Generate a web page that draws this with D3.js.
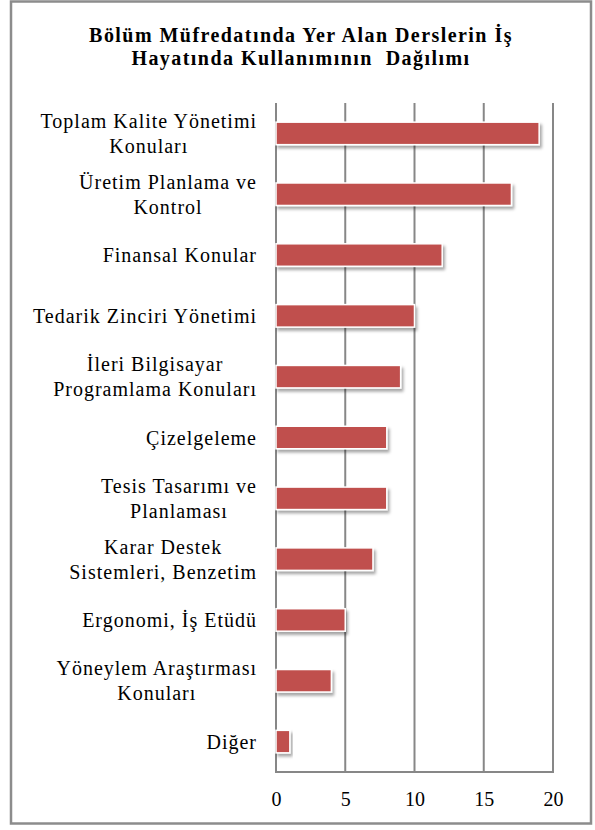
<!DOCTYPE html>
<html>
<head>
<meta charset="utf-8">
<script src="https://cdnjs.cloudflare.com/ajax/libs/d3/7.8.5/d3.min.js"></script>
<style>
  body { margin: 0; background: #fff; }
  text { font-family: "Liberation Serif", "Times New Roman", serif; fill: #000; }
</style>
</head>
<body>
<svg id="chart"></svg>
<script>
// chart data
var titleLines = ["Bölüm Müfredatında Yer Alan Derslerin İş", "Hayatında Kullanımının  Dağılımı"];

var categories = [
    "Toplam Kalite Yönetimi\nKonuları",
    "Üretim Planlama ve\nKontrol",
    "Finansal Konular",
    "Tedarik Zinciri Yönetimi",
    "İleri Bilgisayar\nProgramlama Konuları",
    "Çizelgeleme",
    "Tesis Tasarımı ve\nPlanlaması",
    "Karar Destek\nSistemleri, Benzetim",
    "Ergonomi, İş Etüdü",
    "Yöneylem Araştırması\nKonuları",
    "Diğer"
];

var values = [19, 17, 12, 10, 9, 8, 8, 7, 5, 4, 1];

var xTicks = [0, 5, 10, 15, 20];

var serif = "'Liberation Serif', 'Times New Roman', serif";

// svg size
var width = 595,
    height = 830;

var svg = d3.select("#chart")
    .attr("width", width)
    .attr("height", height);

// drop shadow for bars
var defs = svg.append("defs");
defs.append("filter")
    .attr("id", "shadow")
    .attr("x", "-10%").attr("y", "-30%")
    .attr("width", "130%").attr("height", "180%")
  .append("feDropShadow")
    .attr("dx", 2)
    .attr("dy", 3)
    .attr("stdDeviation", 1.8)
    .attr("flood-color", "#000")
    .attr("flood-opacity", 0.35);

// outer frame
svg.append("rect")
    .attr("x", 11)
    .attr("y", 1.5)
    .attr("width", 580)
    .attr("height", 822)
    .attr("fill", "#fff")
    .attr("stroke", "#8c8c8c")
    .attr("stroke-width", 2.5);

// title
svg.append("g").selectAll("text")
    .data(titleLines).enter()
    .append("text")
    .attr("x", 301)
    .attr("y", function(d, i) { return 42 + i * 23; })
    .attr("text-anchor", "middle")
    .style("font-family", serif)
    .style("font-size", "20px")
    .style("font-weight", "bold")
    .style("letter-spacing", "1.45px")
    .style("white-space", "pre")
    .text(function(d) { return d; });

// plot area
var plot = {left: 276, right: 553, top: 103, bottom: 772};

var x = d3.scaleLinear()
    .domain([0, 20])
    .range([plot.left, plot.right]);

var y = d3.scaleBand()
    .domain(categories)
    .range([plot.top, plot.bottom])
    .paddingInner(0.63)
    .paddingOuter(0.315);

// vertical grid lines
svg.append("g")
    .selectAll("line")
    .data(xTicks).enter()
    .append("line")
    .attr("x1", function(d) { return x(d); })
    .attr("x2", function(d) { return x(d); })
    .attr("y1", plot.top)
    .attr("y2", plot.bottom)
    .attr("stroke", "#878787")
    .attr("stroke-width", 2);

// bottom axis line
svg.append("line")
    .attr("x1", plot.left - 1)
    .attr("x2", plot.right + 1)
    .attr("y1", plot.bottom)
    .attr("y2", plot.bottom)
    .attr("stroke", "#878787")
    .attr("stroke-width", 2);

// bars
svg.append("g")
    .selectAll("rect")
    .data(values).enter()
    .append("rect")
    .attr("x", x(0))
    .attr("y", function(d, i) { return y(categories[i]); })
    .attr("width", function(d) { return x(d) - x(0); })
    .attr("height", y.bandwidth())
    .attr("fill", "#C0504D")
    .attr("stroke", "#fff")
    .attr("stroke-width", 1.5)
    .attr("filter", "url(#shadow)");

// x axis tick labels
var xAxis = svg.append("g")
    .attr("transform", "translate(0," + plot.bottom + ")")
    .call(d3.axisBottom(x).tickValues(xTicks).tickSize(0).tickPadding(20));

xAxis.select(".domain").remove();
xAxis.attr("font-family", null).attr("font-size", null);
xAxis.selectAll("text")
    .style("font-family", serif)
    .style("font-size", "20px")
    .attr("fill", "#000");

// category labels, wrapped lines centred on each other, block right-aligned
var labelRight = 257,
    lineHeight = 25;

categories.forEach(function(cat) {
    var lines = cat.split("\n");
    var cy = y(cat) + y.bandwidth() / 2;
    var label = svg.append("text")
        .attr("text-anchor", "middle")
        .style("font-family", serif)
        .style("font-size", "20px")
        .style("letter-spacing", "1px");

    label.selectAll("tspan")
        .data(lines).enter()
        .append("tspan")
        .attr("y", function(d, i) { return cy + 7 - (lines.length - 1) * lineHeight / 2 + i * lineHeight; })
        .text(function(d) { return d; });

    var w = d3.max(label.selectAll("tspan").nodes(), function(n) { return n.getComputedTextLength(); });
    label.selectAll("tspan").attr("x", labelRight - w / 2);
});
</script>
</body>
</html>
